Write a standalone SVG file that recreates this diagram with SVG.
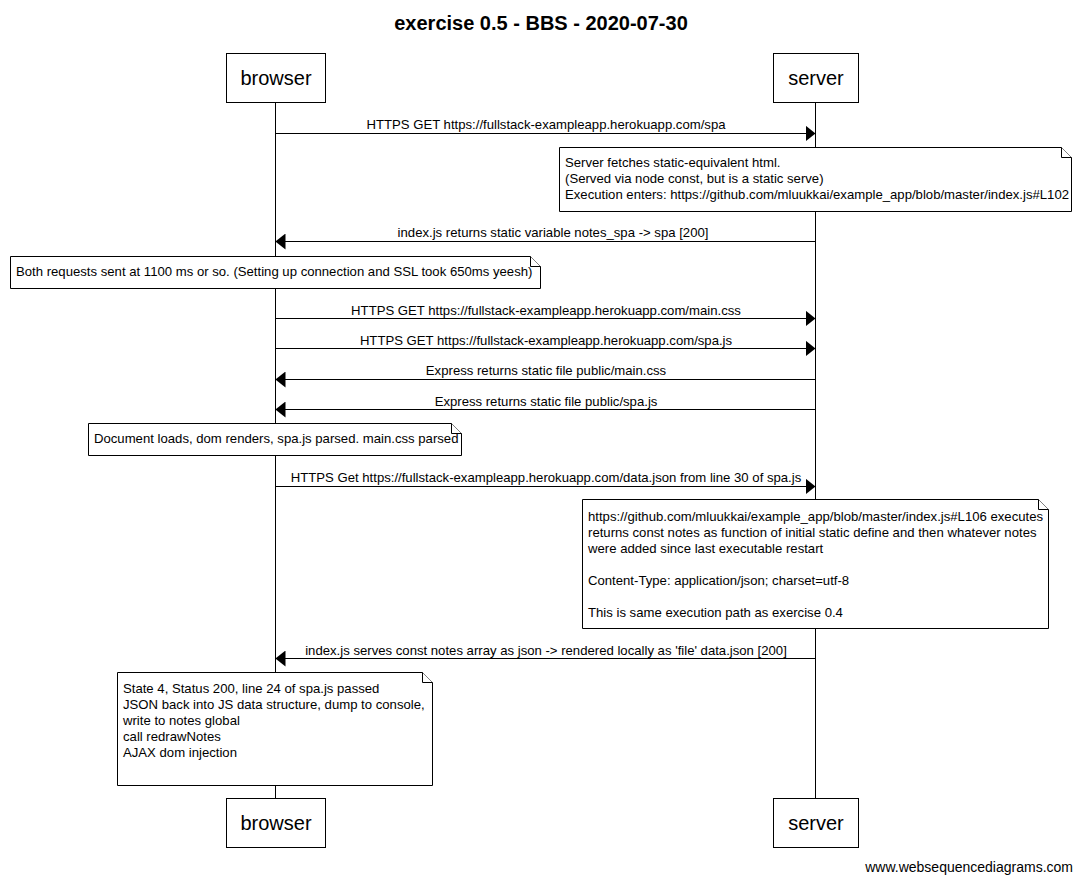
<svg xmlns="http://www.w3.org/2000/svg" width="1082" height="882" viewBox="0 0 1082 882">
<style>
text{font-family:"Liberation Sans",Arial,sans-serif;fill:#000}
.t{font-size:20px;font-weight:bold}
.a{font-size:20px}
.m{font-size:13.15px}
.box{fill:#fff;stroke:#000;stroke-width:1}
.life{stroke:#000;stroke-width:1}
.msg{stroke:#000;stroke-width:1;fill:none}
.note{fill:#fff;stroke:#000;stroke-width:1}
</style>
<defs>
<marker id="ah" markerWidth="10" markerHeight="16" refX="10" refY="8" orient="auto" markerUnits="userSpaceOnUse">
<path d="M0,0 L10,8 L0,16 Z" fill="#000"/>
</marker>
</defs>
<rect width="1082" height="882" fill="#fff"/>
<text class="t" x="541" y="30" text-anchor="middle">exercise 0.5 - BBS - 2020-07-30</text>
<g id="lifelines">
<line class="life" x1="275.5" y1="102" x2="275.5" y2="798"/>
<line class="life" x1="815.5" y1="102" x2="815.5" y2="798"/>
</g>
<g id="browser-top"><rect class="box" x="226.5" y="53.5" width="99" height="49"/><text class="a" x="276" y="85" text-anchor="middle">browser</text></g>
<g id="server-top"><rect class="box" x="773.5" y="53.5" width="85" height="49"/><text class="a" x="816" y="85" text-anchor="middle">server</text></g>
<g id="browser-bottom"><rect class="box" x="226.5" y="798.5" width="99" height="49"/><text class="a" x="276" y="830" text-anchor="middle">browser</text></g>
<g id="server-bottom"><rect class="box" x="773.5" y="798.5" width="85" height="49"/><text class="a" x="816" y="830" text-anchor="middle">server</text></g>
<g id="connectors">
<line class="msg" x1="275.5" y1="133.5" x2="815.5" y2="133.5" marker-end="url(#ah)"/>
<text class="m" x="546" y="129" text-anchor="middle">HTTPS GET https://fullstack-exampleapp.herokuapp.com/spa</text>
<line class="msg" x1="815.5" y1="241.5" x2="275.5" y2="241.5" marker-end="url(#ah)"/>
<text class="m" x="553" y="237" text-anchor="middle">index.js returns static variable notes_spa -&gt; spa [200]</text>
<line class="msg" x1="275.5" y1="318.5" x2="815.5" y2="318.5" marker-end="url(#ah)"/>
<text class="m" x="546" y="315" text-anchor="middle">HTTPS GET https://fullstack-exampleapp.herokuapp.com/main.css</text>
<line class="msg" x1="275.5" y1="348.5" x2="815.5" y2="348.5" marker-end="url(#ah)"/>
<text class="m" x="546" y="345" text-anchor="middle">HTTPS GET https://fullstack-exampleapp.herokuapp.com/spa.js</text>
<line class="msg" x1="815.5" y1="379.5" x2="275.5" y2="379.5" marker-end="url(#ah)"/>
<text class="m" x="546" y="375" text-anchor="middle">Express returns static file public/main.css</text>
<line class="msg" x1="815.5" y1="409.5" x2="275.5" y2="409.5" marker-end="url(#ah)"/>
<text class="m" x="546" y="406" text-anchor="middle">Express returns static file public/spa.js</text>
<line class="msg" x1="275.5" y1="486.5" x2="815.5" y2="486.5" marker-end="url(#ah)"/>
<text class="m" x="546" y="482" text-anchor="middle">HTTPS Get https://fullstack-exampleapp.herokuapp.com/data.json from line 30 of spa.js</text>
<line class="msg" x1="815.5" y1="658.5" x2="275.5" y2="658.5" marker-end="url(#ah)"/>
<text class="m" x="546" y="655" text-anchor="middle">index.js serves const notes array as json -&gt; rendered locally as 'file' data.json [200]</text>
</g>
<g id="note1">
<path class="note" d="M559.5,147.5 H1061.5 L1071.5,157.5 V211.5 H559.5 Z"/>
<path class="note" d="M1061.5,147.5 V157.5 H1071.5" fill="none"/>
<text class="m" x="565" y="167">Server fetches static-equivalent html.</text>
<text class="m" x="565" y="183">(Served via node const, but is a static serve)</text>
<text class="m" x="565" y="199">Execution enters: https://github.com/mluukkai/example_app/blob/master/index.js#L102</text>
</g>
<g id="note2">
<path class="note" d="M10.5,256.5 H530.5 L540.5,266.5 V288.5 H10.5 Z"/>
<path class="note" d="M530.5,256.5 V266.5 H540.5" fill="none"/>
<text class="m" x="16" y="276">Both requests sent at 1100 ms or so. (Setting up connection and SSL took 650ms yeesh)</text>
</g>
<g id="note3">
<path class="note" d="M88.5,423.5 H451.5 L461.5,433.5 V455.5 H88.5 Z"/>
<path class="note" d="M451.5,423.5 V433.5 H461.5" fill="none"/>
<text class="m" x="94" y="443">Document loads, dom renders, spa.js parsed. main.css parsed</text>
</g>
<g id="note4">
<path class="note" d="M582.5,499.5 H1038.5 L1048.5,509.5 V628.5 H582.5 Z"/>
<path class="note" d="M1038.5,499.5 V509.5 H1048.5" fill="none"/>
<text class="m" x="588" y="521">https://github.com/mluukkai/example_app/blob/master/index.js#L106 executes</text>
<text class="m" x="588" y="537">returns const notes as function of initial static define and then whatever notes</text>
<text class="m" x="588" y="553">were added since last executable restart</text>
<text class="m" x="588" y="585">Content-Type: application/json; charset=utf-8</text>
<text class="m" x="588" y="617">This is same execution path as exercise 0.4</text>
</g>
<g id="note5">
<path class="note" d="M117.5,672.5 H422.5 L432.5,682.5 V785.5 H117.5 Z"/>
<path class="note" d="M422.5,672.5 V682.5 H432.5" fill="none"/>
<text class="m" x="123" y="693">State 4, Status 200, line 24 of spa.js passed</text>
<text class="m" x="123" y="709">JSON back into JS data structure, dump to console,</text>
<text class="m" x="123" y="725">write to notes global</text>
<text class="m" x="123" y="741">call redrawNotes</text>
<text class="m" x="123" y="757">AJAX dom injection</text>
</g>
<text x="1073" y="872" text-anchor="end" style="font-size:14px">www.websequencediagrams.com</text>
</svg>
